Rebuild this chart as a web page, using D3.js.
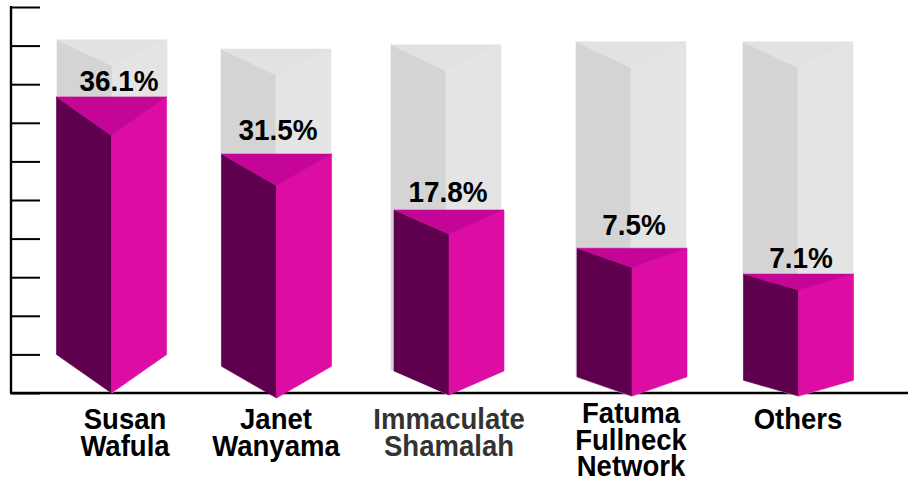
<!DOCTYPE html>
<html><head><meta charset="utf-8">
<script src="https://cdn.jsdelivr.net/npm/d3@7/dist/d3.min.js"></script>
<style>html,body{margin:0;padding:0;background:#fff}svg{display:block}</style>
</head><body><script>
// Data
const categories = ["Susan Wafula","Janet Wanyama","Immaculate Shamalah","Fatuma Fullneck Network","Others"];
const categoryLines = [["Susan","Wafula"],["Janet","Wanyama"],["Immaculate","Shamalah"],["Fatuma","Fullneck","Network"],["Others"]];
const shares = [36.1,31.5,17.8,7.5,7.1];
// Levels read against the 0-10 tick axis (the drawing is not proportional to the shares)
const fillLevels = [7.67,6.19,4.74,3.75,3.08];
const baseLevels = [0,-0.13,-0.05,-0.08,-0.08];
const ghostLevels = [9.15,8.91,9.02,9.1,9.1];
const ghostBaseLevels = [0,-0.08,-0.02,-0.08,-0.08];
const axisTicks = [0,1,2,3,4,5,6,7,8,9,10];

const W=908,H=477;
const y=d3.scaleLinear().domain([0,10]).range([393,7]);
const xFill=d3.scaleOrdinal(categories,[111.5,276.5,449,632,798.5]);
const xGhost=d3.scaleOrdinal(categories,[112,276,446,631,798]);
const halfW=55, depthRatio=0.13;
const labelX=d3.scaleOrdinal(categories,[119,278,448,634,801]);
const labelY=d3.scaleOrdinal(categories,[91,140,202,235,268]);
const catX=d3.scaleOrdinal(categories,[125,276,449,631,798]);
const catY=d3.scaleOrdinal(categories,[429,429,429,423,429]);
const catColor=d3.scaleOrdinal(categories,["#000","#000","#333","#000","#000"]);

const svg=d3.select("body").append("svg").attr("width",W).attr("height",H);
const font="'Liberation Sans',Arial,sans-serif";

// baseline and axis
svg.append("line").attr("x1",10).attr("x2",W).attr("y1",y(0)).attr("y2",y(0)).attr("stroke","#000").attr("stroke-width",2.4);
const axis=svg.append("g").attr("transform","translate(11,0)")
  .call(d3.axisRight(y).tickValues(axisTicks).tickSize(29).tickFormat(""));
axis.selectAll("line").attr("stroke","#000").attr("stroke-width",2);
axis.select(".domain").attr("stroke","#000").attr("stroke-width",2.4).attr("d",`M0,${y(10)-1}V${y(0)}`);

const poly=(pts,fill,stroke)=>svg.append("polygon").attr("points",pts.map(p=>p.join(",")).join(" "))
  .attr("fill",fill).attr("stroke",stroke||fill).attr("stroke-width",0.6);

categories.forEach((c,i)=>{
  const prism=(cx,topLv,baseLv,cols,d,bd)=>{
    const top=y(topLv), tip=y(baseLv), l=cx-halfW, r=cx+halfW;
    const sideB=tip-bd;
    poly([[l,top],[cx,top+d],[cx,tip],[l,sideB]],cols[0]);
    poly([[cx,top+d],[r,top],[r,sideB],[cx,tip]],cols[1]);
    poly([[l,top],[r,top],[cx,top+d]],cols[2]);
  };
  const h=y(baseLevels[i])-y(fillLevels[i]);
  const d=h*depthRatio;
  prism(xGhost(c),ghostLevels[i],ghostBaseLevels[i],["#d4d4d4","#e4e4e4","#e2e2e2"],26,d);
  prism(xFill(c),fillLevels[i],baseLevels[i],["#5f004e","#dd0da3","#c40595"],d,d);
  svg.append("text").attr("transform",`translate(${labelX(c)},${labelY(c)}) scale(0.93,1)`).attr("text-anchor","middle")
    .attr("font-family",font).attr("font-weight",700).attr("font-size",30)
    .attr("fill","#000").text(shares[i].toFixed(1)+"%");
  const t=svg.append("text").attr("transform",`translate(${catX(c)},${catY(c)}) scale(0.95,1)`)
    .attr("text-anchor","middle").attr("font-family",font)
    .attr("font-weight",700).attr("font-size",29).attr("fill",catColor(c));
  categoryLines[i].forEach((s,k)=>t.append("tspan").attr("x",0).attr("y",k*26.5).text(s));
});
</script></body></html>
